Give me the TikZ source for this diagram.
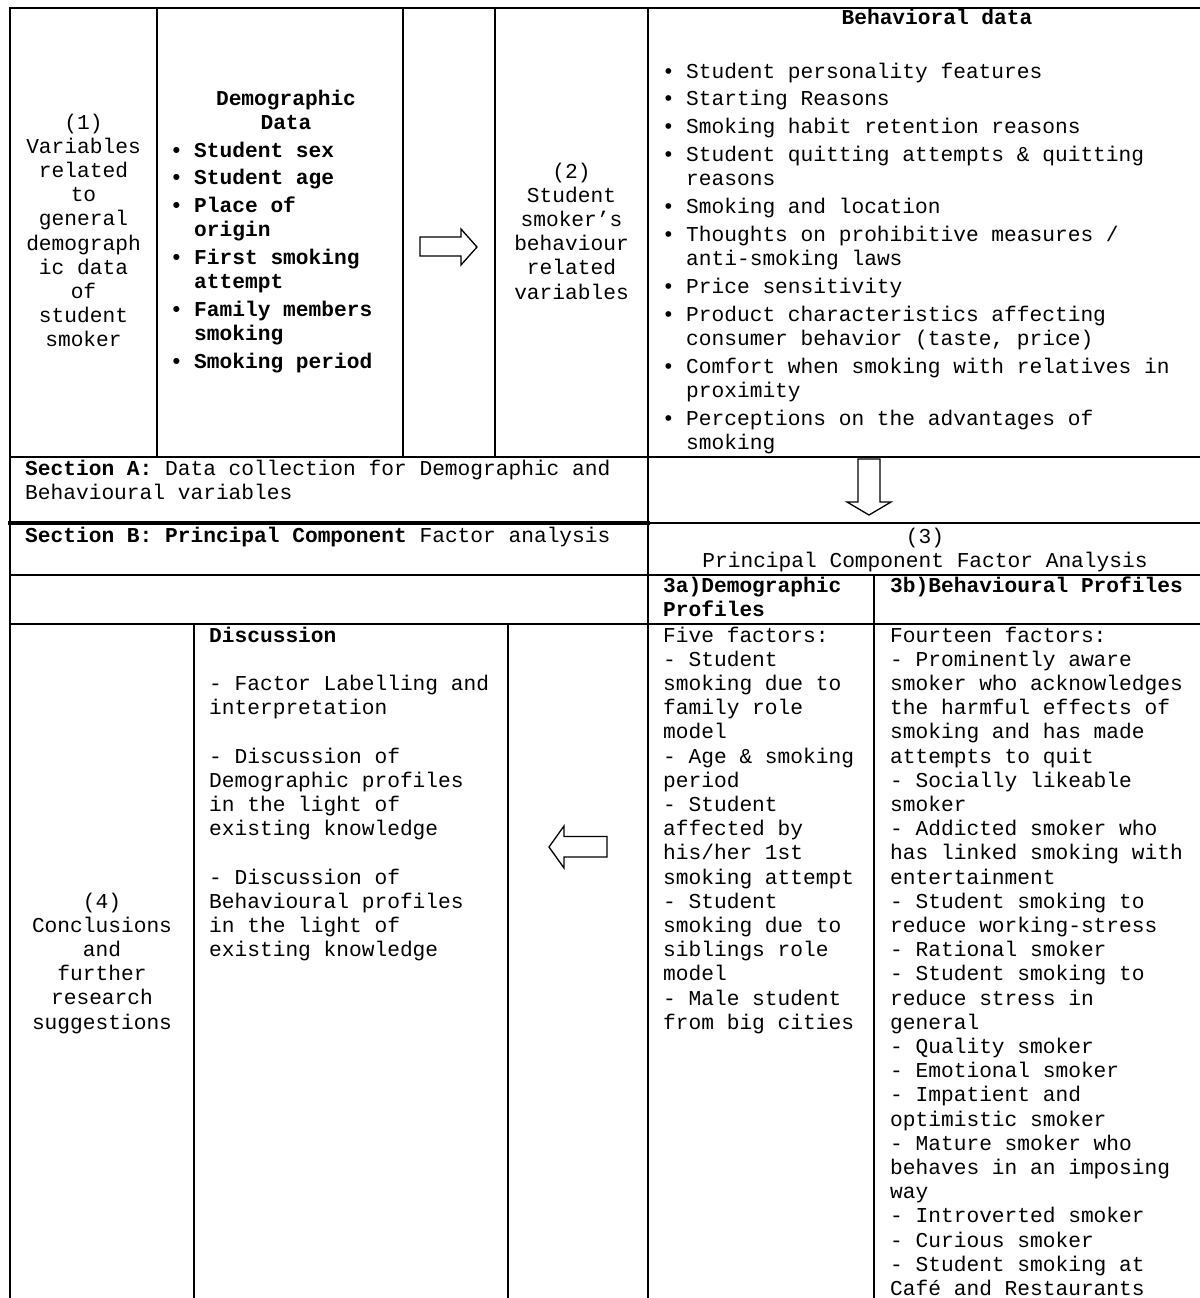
\documentclass[tikz,border=0pt]{standalone}
\usepackage{fontspec}
\setmainfont{Liberation Mono}
\usepackage{tikz}
\usetikzlibrary{positioning}
\tikzstyle{rule} = [line width=2pt]
\newcommand{\monosp}{\fontdimen2\font=12.72pt\fontdimen3\font=0pt\fontdimen4\font=0pt}
\newcommand{\bftext}[1]{{\bfseries\monosp #1}}
\newcommand{\bul}{\makebox[19pt][l]{\kern-5pt•}}
\newcommand{\cont}{\hspace*{19pt}}

\begin{document}
\begin{tikzpicture}[x=1pt,y=-1pt,line cap=rect,
	plaintext/.style={inner sep=0pt, font=\fontsize{21.2}{24.2}\selectfont\monosp},
	boldtext/.style={inner sep=0pt, font=\fontsize{21.2}{24.2}\selectfont\bfseries\monosp},
	centred/.style={anchor=base, execute at begin node={\centering\spaceskip=0pt\xspaceskip=0pt}},
	flush/.style={anchor=base west, execute at begin node={\raggedright\spaceskip=0pt\xspaceskip=0pt}},
	blockarrow/.style={draw=black, line width=1.3pt, fill=white, line join=miter}]
	
	\path[use as bounding box, fill=white] (0,0) rectangle (1199,1298);
	
	% table rules
	\draw[rule] (10,8) -- (1210,8);
	\draw[rule] (10,8) -- (10,1310);
	\draw[rule] (157,8) -- (157,457);
	\draw[rule] (403,8) -- (403,457);
	\draw[rule] (495,8) -- (495,457);
	\draw[rule] (648,8) -- (648,1310);
	\draw[rule] (10,457) -- (1210,457);
	\draw[line width=3.5pt] (10,523) -- (648,523);
	\draw[rule] (648,523) -- (1210,523);
	\draw[rule] (10,575) -- (1210,575);
	\draw[rule] (10,624) -- (1210,624);
	\draw[rule] (874,575) -- (874,1310);
	\draw[rule] (194,624) -- (194,1310);
	\draw[rule] (508,624) -- (508,1310);
	
	% block arrows
	\draw[blockarrow] (420,237) -- (461,237) -- (461,229) -- (477,247) -- (461,265) -- (461,256) -- (420,256) -- cycle;
	\draw[blockarrow] (858,459) -- (880,459) -- (880,502) -- (891,502) -- (869,515) -- (847,502) -- (858,502) -- cycle;
	\draw[blockarrow] (607,836.5) -- (564,836.5) -- (564,826) -- (549,847) -- (564,868) -- (564,857) -- (607,857) -- cycle;
	
	% section A
	\node[plaintext,centred,text width=145] (1) at (83.5,129) {(1)\\Variables\\related\\to\\general\\demograph\\ic data\\of\\student\\smoker};
	\node[boldtext,centred,text width=220] (demo) at (286,105) {Demographic\\Data};
	\node[boldtext,flush,text width=220] (demolist) at (175,157) {\bul Student sex\\[3.6pt]
		\bul Student age\\[3.6pt]
		\bul Place of\\\cont origin\\[3.6pt]
		\bul First smoking\\\cont attempt\\[3.6pt]
		\bul Family members\\\cont smoking\\[3.6pt]
		\bul Smoking period};
	\node[plaintext,centred,text width=145] (2) at (571.5,178) {(2)\\Student\\smoker’s\\behaviour\\related\\variables};
	\node[boldtext,centred,text width=300] (behav) at (937,25) {Behavioral data};
	\node[plaintext,flush,text width=520] (behavlist) at (667,78) {\bul Student personality features\\[3.6pt]
		\bul Starting Reasons\\[3.6pt]
		\bul Smoking habit retention reasons\\[3.6pt]
		\bul Student quitting attempts \& quitting\\\cont reasons\\[3.6pt]
		\bul Smoking and location\\[3.6pt]
		\bul Thoughts on prohibitive measures /\\\cont anti-smoking laws\\[3.6pt]
		\bul Price sensitivity\\[3.6pt]
		\bul Product characteristics affecting\\\cont consumer behavior (taste, price)\\[3.6pt]
		\bul Comfort when smoking with relatives in\\\cont proximity\\[3.6pt]
		\bul Perceptions on the advantages of\\\cont smoking};
	\node[plaintext,flush,text width=615] (secA) at (25,475) {\bftext{Section A:} Data collection for Demographic and\\Behavioural variables};
	
	% section B
	\node[plaintext,flush,text width=615] (secB) at (25,542) {\bftext{Section B: Principal Component} Factor analysis};
	\node[plaintext,centred,text width=500] (3) at (925,543) {(3)\\Principal Component Factor Analysis};
	\node[boldtext,flush,text width=205] (3a) at (663,592) {3a)Demographic\\Profiles};
	\node[boldtext,flush,text width=300] (3b) at (890,592) {3b)Behavioural Profiles};
	\node[plaintext,flush,text width=205] (five) at (663,642) {Five factors:\\- Student\\smoking due to\\family role\\model\\- Age \& smoking\\period\\- Student\\affected by\\his/her 1st\\smoking attempt\\- Student\\smoking due to\\siblings role\\model\\- Male student\\from big cities};
	\node[plaintext,flush,text width=300] (fourteen) at (890,642) {Fourteen factors:\\- Prominently aware\\smoker who acknowledges\\the harmful effects of\\smoking and has made\\attempts to quit\\- Socially likeable\\smoker\\- Addicted smoker who\\has linked smoking with\\entertainment\\- Student smoking to\\reduce working-stress\\- Rational smoker\\- Student smoking to\\reduce stress in\\general\\- Quality smoker\\- Emotional smoker\\- Impatient and\\optimistic smoker\\- Mature smoker who\\behaves in an imposing\\way\\- Introverted smoker\\- Curious smoker\\- Student smoking at\\Café and Restaurants};
	\node[plaintext,flush,text width=290] (disc) at (209,642) {\bftext{Discussion}\\[24.2pt]
		- Factor Labelling and\\interpretation\\[24.2pt]
		- Discussion of\\Demographic profiles\\in the light of\\existing knowledge\\[24.2pt]
		- Discussion of\\Behavioural profiles\\in the light of\\existing knowledge};
	\node[plaintext,centred,text width=175] (4) at (102,908) {(4)\\Conclusions\\and\\further\\research\\suggestions};
\end{tikzpicture}
\end{document}
